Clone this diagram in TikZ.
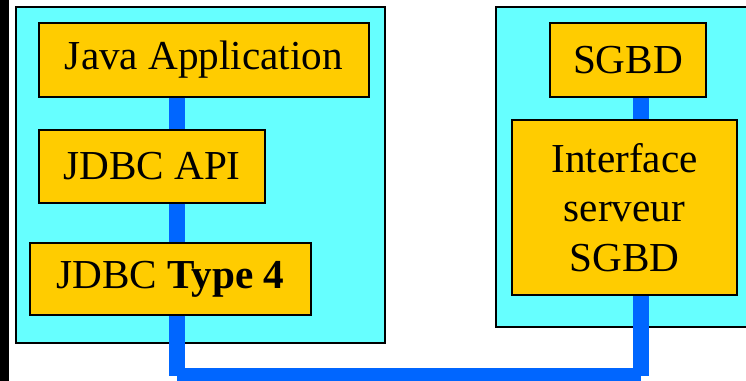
\documentclass[tikz,border=0pt]{standalone}
\usepackage{fontspec}
\setmainfont{Liberation Serif}
\usetikzlibrary{positioning}
\definecolor{panelcyan}{HTML}{66FFFF}
\definecolor{boxgold}{HTML}{FFCC00}
\definecolor{linkblue}{HTML}{0066FF}

\begin{document}
\begin{tikzpicture}[x=0.5pt,y=-0.5pt,
  panel/.style={draw=black,line width=1pt,fill=panelcyan},
  layer/.style={draw=black,line width=0.6pt,fill=boxgold,inner sep=0pt,
    align=center,font=\fontsize{20.6}{24.8}\selectfont},
  link/.style={draw=linkblue,line width=8pt}]
  \useasboundingbox (0,0) rectangle (746,381);
  % black strip down the left edge
  \fill[black] (0,0) rectangle (9,381);
  % client and server panels
  \draw[panel] (16,7) rectangle (385,343);
  \draw[panel] (496,7) rectangle (760,327);
  % client stack
  \node[layer,minimum width=165pt,minimum height=37pt] (java) at (204,60) {Java Application};
  \node[layer,minimum width=113pt,minimum height=36.5pt] (api) at (152,166.5) {JDBC API};
  \node[layer,minimum width=140.5pt,minimum height=36pt] (type4) at (170.5,279) {JDBC \textbf{Type 4}};
  % server stack
  \node[layer,minimum width=78pt,minimum height=37pt] (sgbd) at (628,60) {SGBD};
  \node[layer,minimum width=112.5pt,minimum height=87.5pt] (iface) at (624.5,207.5) {Interface\\serveur\\SGBD};
  % blue links
  \coordinate (lx) at (177,0);
  \coordinate (rx) at (641,0);
  \coordinate (bus) at (0,376);
  \draw[link] (java.south -| lx) -- (api.north -| lx);
  \draw[link] (api.south -| lx) -- (type4.north -| lx);
  \draw[link] (sgbd.south -| rx) -- (iface.north -| rx);
  \draw[link] (type4.south -| lx) -- (lx |- bus);
  \draw[link] (lx |- bus) -- (rx |- bus);
  \draw[link] (rx |- bus) -- (iface.south -| rx);
\end{tikzpicture}
\end{document}
